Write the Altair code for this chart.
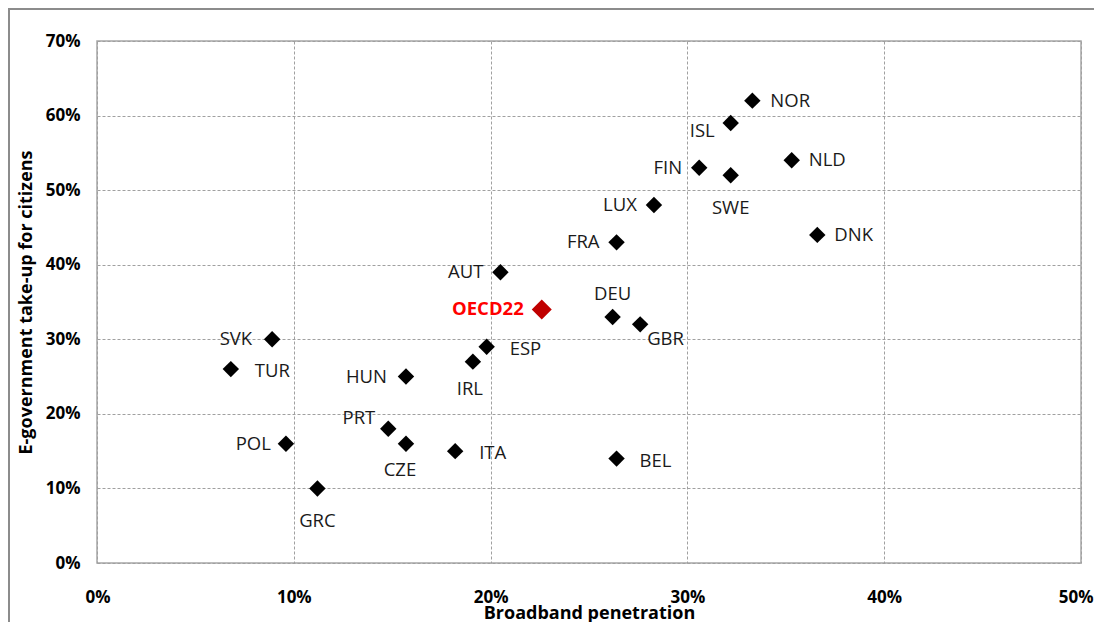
import altair as alt
import pandas as pd

countries = ["NOR", "ISL", "NLD", "FIN", "SWE", "LUX", "FRA", "DNK", "AUT", "OECD22",
             "DEU", "GBR", "ESP", "IRL", "SVK", "TUR", "HUN", "PRT", "CZE", "ITA",
             "POL", "GRC", "BEL"]
broadband = [33.3, 32.2, 35.3, 30.6, 32.2, 28.3, 26.4, 36.6, 20.5, 22.6,
             26.2, 27.6, 19.8, 19.1, 8.9, 6.8, 15.7, 14.8, 15.7, 18.2,
             9.6, 11.2, 26.4]
egov = [62, 59, 54, 53, 52, 48, 43, 44, 39, 34,
        33, 32, 29, 27, 30, 26, 25, 18, 16, 15,
        16, 10, 14]

df = pd.DataFrame({"country": countries,
                   "x": [v / 100 for v in broadband],
                   "y": [v / 100 for v in egov]})
df["highlight"] = df["country"] == "OECD22"

# label placement (style): align, dx, dy
placement = {
    "NOR": ("left", 18, 0), "ISL": ("right", -16, 8), "NLD": ("left", 17, 0),
    "FIN": ("right", -17, 0), "SWE": ("center", 0, 33), "LUX": ("right", -17, 0),
    "FRA": ("right", -17, 0), "DNK": ("left", 17, 0), "AUT": ("right", -17, 0),
    "OECD22": ("right", -18, 0), "DEU": ("center", 0, -23), "GBR": ("left", 7, 15),
    "ESP": ("left", 23, 2), "IRL": ("center", -3, 27), "SVK": ("right", -20, 0),
    "TUR": ("left", 24, 2), "HUN": ("right", -19, 0), "PRT": ("right", -13, -11),
    "CZE": ("center", -6, 26), "ITA": ("left", 24, 2), "POL": ("right", -15, 0),
    "GRC": ("center", 0, 33), "BEL": ("left", 23, 2),
}

W, H = 984, 522
FONT = "Open Sans"

xscale = alt.Scale(domain=[0, 0.5], nice=False, zero=True)
yscale = alt.Scale(domain=[0, 0.7], nice=False, zero=True)

base = alt.Chart(df)

points = base.transform_filter("!datum.highlight").mark_point(
    shape="diamond", filled=True, color="black", size=270, opacity=1
).encode(
    x=alt.X("x:Q", scale=xscale,
            axis=alt.Axis(format=".0%", values=[0, 0.1, 0.2, 0.3, 0.4, 0.5],
                          title="Broadband penetration")),
    y=alt.Y("y:Q", scale=yscale,
            axis=alt.Axis(format=".0%", values=[0, 0.1, 0.2, 0.3, 0.4, 0.5, 0.6, 0.7],
                          title="E-government take-up for citizens")),
)

oecd = base.transform_filter("datum.highlight").mark_point(
    shape="diamond", filled=True, color="#C00000", size=400, opacity=1
).encode(x=alt.X("x:Q", scale=xscale), y=alt.Y("y:Q", scale=yscale))

labels = []
for c in countries:
    align, dx, dy = placement[c]
    hl = c == "OECD22"
    labels.append(
        base.transform_filter(alt.datum.country == c).mark_text(
            align=align, baseline="middle", dx=dx, dy=dy,
            font=FONT, fontSize=18.5,
            fontWeight="bold" if hl else "normal",
            color="#FF0000" if hl else "#1a1a1a",
        ).encode(x=alt.X("x:Q", scale=xscale), y=alt.Y("y:Q", scale=yscale),
                 text="country:N")
    )

frame_top = alt.Chart(pd.DataFrame({"a": [0]})).mark_rule(
    color="#8c8c8c", strokeWidth=2
).encode(x=alt.value(-89), x2=alt.value(W + 13), y=alt.value(-32))
frame_left = alt.Chart(pd.DataFrame({"a": [0]})).mark_rule(
    color="#8c8c8c", strokeWidth=2
).encode(x=alt.value(-88), y=alt.value(-33), y2=alt.value(H + 59))

chart = alt.layer(frame_top, frame_left, points, oecd, *labels).properties(
    width=W, height=H,
    autosize=alt.AutoSizeParams(type="none"),
    padding={"left": 89, "top": 33, "right": 13, "bottom": 59},
).configure_view(
    stroke="#a6a6a6", strokeWidth=1.5
).configure_axis(
    grid=True, gridColor="#a0a0a0", gridDash=[3, 2], gridWidth=1,
    domain=False, ticks=False,
    labelFont=FONT, labelFontSize=17, labelFontWeight="bold", labelColor="black",
    titleFont=FONT, titleFontWeight="bold", titleColor="black",
).configure_axisX(
    labelPadding=26, labelFlush=True, labelFlushOffset=12,
    titleFontSize=18, titleBaseline="alphabetic", titleY=55
).configure_axisY(
    labelPadding=17, labelFlush=False, titlePadding=10, titleFontSize=18
)

chart.save("out.html", embed_options={"renderer": "svg", "actions": False})
